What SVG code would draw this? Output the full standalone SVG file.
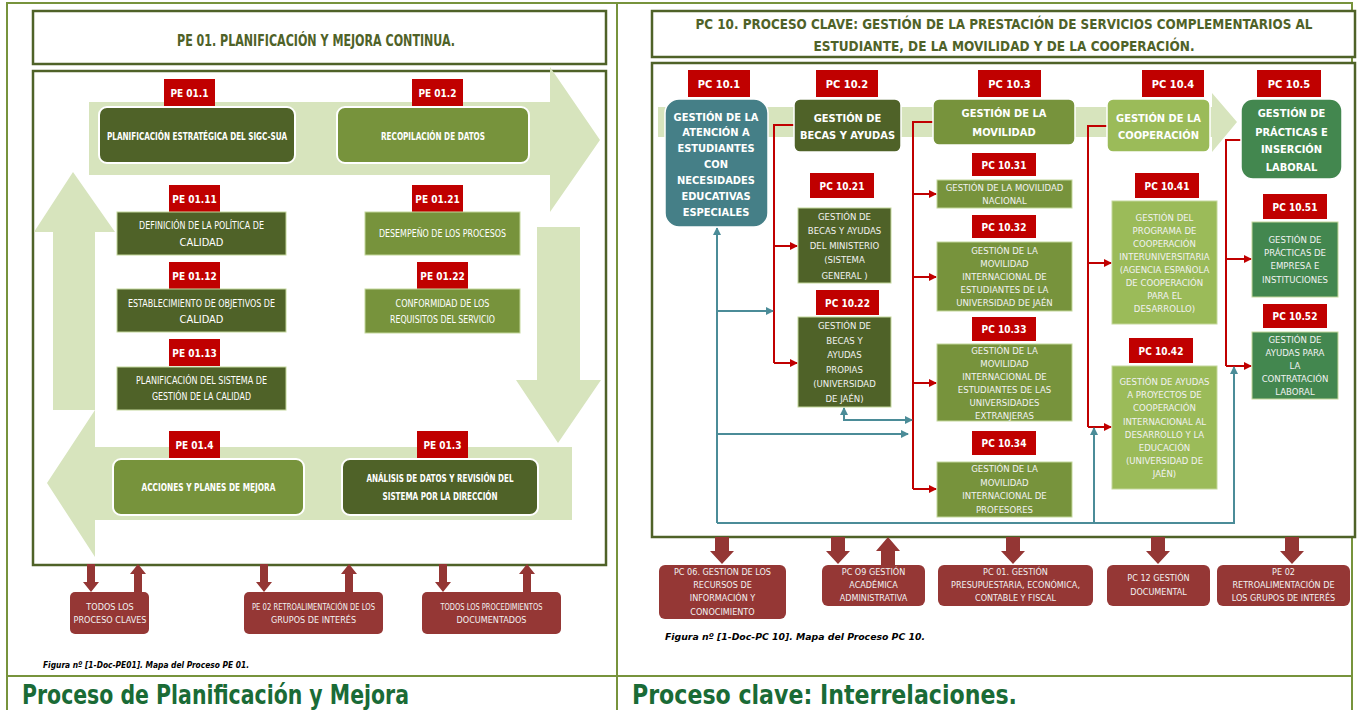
<svg xmlns="http://www.w3.org/2000/svg" width="1359" height="710" viewBox="0 0 1359 710">
<style>
text{font-family:"Liberation Sans Narrow","DejaVu Sans Condensed","Liberation Sans",sans-serif;text-anchor:middle;dominant-baseline:central}
.frame{fill:none;stroke:#77933C;stroke-width:2}
.box{fill:#fff;stroke:#4F6228;stroke-width:2.5}
.big{fill:#D7E4BD}
.lbl{fill:#C00000}
.lt{fill:#fff;font-weight:bold;font-size:10px}
.lt2{fill:#fff;font-weight:bold;font-size:11px}
.dk{fill:#4F6228}
.ol{fill:#77933C}
.lg{fill:#9BBB59}
.gr{fill:#43874F}
.tl{fill:#457F87}
.rb{stroke:#fff;stroke-width:2}
.sb{stroke:#C4D79B;stroke-width:1}
.bt{fill:#fff;font-weight:bold;font-size:11px}
.rt{fill:#fff;font-size:11px}
.st{fill:#F2F2F2;font-size:9.5px}
.br{fill:#953735}
.brt{fill:#F2F2F2;font-size:9px}
.ttl{fill:#4F6228;font-weight:bold;font-size:15px}
.ttl2{fill:#4F6228;font-weight:bold;font-size:14px}
.cap{fill:#000;font-weight:bold;font-style:italic;font-size:9px;text-anchor:start}
.big2{fill:#1A6B36;font-weight:bold;font-size:27px;text-anchor:start}
.red{fill:none;stroke:#C00000;stroke-width:2}
.teal{fill:none;stroke:#4B8C98;stroke-width:2}
</style>
<defs>
<marker id="ar" markerUnits="userSpaceOnUse" markerWidth="8" markerHeight="8" refX="7" refY="4" orient="auto"><path d="M0,0 L8,4 L0,8 z" fill="#C00000"/></marker>
<marker id="at" markerUnits="userSpaceOnUse" markerWidth="8" markerHeight="8" refX="7" refY="4" orient="auto-start-reverse"><path d="M0,0 L8,4 L0,8 z" fill="#4B8C98"/></marker>
</defs>
<rect width="1359" height="710" fill="#fff"/>

<g id="frames">
<path class="frame" d="M7,715 V3 H1352 V715 M617,3 V715 M7,676 H1352"/>
</g>

<!-- LEFT PANEL -->
<g id="pe01-title">
<rect class="box" x="33" y="11" width="573" height="53"/>
<text class="ttl" x="316" y="41" textLength="278" lengthAdjust="spacingAndGlyphs">PE 01. PLANIFICACIÓN Y MEJORA CONTINUA.</text>
</g>
<g id="pe01-main">
<rect class="box" x="33" y="71" width="573" height="494"/>
<polygon class="big" points="89,102 550,102 550,67 600,140 550,212 550,175 89,175"/>
<polygon class="big" points="537,227 580,227 580,380 601,380 558,443 516,380 537,380"/>
<polygon class="big" points="572,447 572,520 95,520 95,557 47,483 95,410 95,447"/>
<polygon class="big" points="53,410 53,232 34,232 73,172 115,232 95,232 95,410"/>
</g>

<g id="pe01-1">
<rect class="lbl" x="164" y="79" width="51" height="27"/><text class="lt" x="189.5" y="93">PE 01.1</text>
<rect class="dk rb" x="99" y="107" width="196" height="56" rx="8"/>
<text class="bt" x="197" y="136" textLength="180" lengthAdjust="spacingAndGlyphs">PLANIFICACIÓN ESTRATÉGICA DEL SIGC-SUA</text>
</g>
<g id="pe01-2">
<rect class="lbl" x="412" y="79" width="51" height="27"/><text class="lt" x="437.5" y="93">PE 01.2</text>
<rect class="ol rb" x="337" y="107" width="192" height="56" rx="8"/>
<text class="bt" x="433" y="136" textLength="104" lengthAdjust="spacingAndGlyphs">RECOPILACIÓN DE DATOS</text>
</g>
<g id="pe01-11">
<rect class="lbl" x="169" y="185" width="51" height="27"/><text class="lt" x="194.5" y="199">PE 01.11</text>
<rect class="dk sb" x="117" y="212" width="169" height="43"/>
<text class="rt" x="201.5" y="225" textLength="125" lengthAdjust="spacingAndGlyphs">DEFINICIÓN DE LA POLÍTICA DE</text>
<text class="rt" x="201.5" y="242">CALIDAD</text>
</g>
<g id="pe01-12">
<rect class="lbl" x="169" y="262" width="51" height="27"/><text class="lt" x="194.5" y="276">PE 01.12</text>
<rect class="dk sb" x="117" y="289" width="169" height="43"/>
<text class="rt" x="201.5" y="303" textLength="147" lengthAdjust="spacingAndGlyphs">ESTABLECIMIENTO DE OBJETIVOS DE</text>
<text class="rt" x="201.5" y="319">CALIDAD</text>
</g>
<g id="pe01-13">
<rect class="lbl" x="169" y="339" width="51" height="27"/><text class="lt" x="194.5" y="353">PE 01.13</text>
<rect class="dk sb" x="117" y="367" width="169" height="43"/>
<text class="rt" x="201.5" y="380" textLength="131" lengthAdjust="spacingAndGlyphs">PLANIFICACIÓN DEL SISTEMA DE</text>
<text class="rt" x="201.5" y="396" textLength="99" lengthAdjust="spacingAndGlyphs">GESTIÓN DE LA CALIDAD</text>
</g>
<g id="pe01-21">
<rect class="lbl" x="412" y="185" width="51" height="27"/><text class="lt" x="437.5" y="199">PE 01.21</text>
<rect class="ol sb" x="365" y="212" width="155" height="43"/>
<text class="rt" x="442.5" y="233" textLength="127" lengthAdjust="spacingAndGlyphs">DESEMPEÑO DE LOS PROCESOS</text>
</g>
<g id="pe01-22">
<rect class="lbl" x="417" y="262" width="51" height="27"/><text class="lt" x="442.5" y="276">PE 01.22</text>
<rect class="ol sb" x="365" y="289" width="155" height="44"/>
<text class="rt" x="442.5" y="303" textLength="94" lengthAdjust="spacingAndGlyphs">CONFORMIDAD DE LOS</text>
<text class="rt" x="442.5" y="319" textLength="105" lengthAdjust="spacingAndGlyphs">REQUISITOS DEL SERVICIO</text>
</g>
<g id="pe01-4">
<rect class="lbl" x="169" y="431" width="51" height="27"/><text class="lt" x="194.5" y="445">PE 01.4</text>
<rect class="ol rb" x="113" y="459" width="191" height="56" rx="8"/>
<text class="bt" x="208.5" y="487" textLength="134" lengthAdjust="spacingAndGlyphs">ACCIONES Y PLANES DE MEJORA</text>
</g>
<g id="pe01-3">
<rect class="lbl" x="417" y="431" width="51" height="27"/><text class="lt" x="442.5" y="445">PE 01.3</text>
<rect class="dk rb" x="342" y="459" width="196" height="56" rx="8"/>
<text class="bt" x="440" y="478" textLength="147" lengthAdjust="spacingAndGlyphs">ANÁLISIS DE DATOS Y REVISIÓN DEL</text>
<text class="bt" x="440" y="496" textLength="115" lengthAdjust="spacingAndGlyphs">SISTEMA POR LA DIRECCIÓN</text>
</g>

<g id="pe01-links" fill="#943634">
<polygon points="87,564 95,564 95,582 99,582 91,592 83,582 87,582"/>
<polygon points="134,592 142,592 142,574 146,574 138,564 130,574 134,574"/>
<polygon points="260,564 268,564 268,582 272,582 264,592 256,582 260,582"/>
<polygon points="345,592 353,592 353,574 357,574 349,564 341,574 345,574"/>
<polygon points="439,564 447,564 447,582 451,582 443,592 435,582 439,582"/>
<polygon points="523,592 531,592 531,574 535,574 527,564 519,574 523,574"/>
</g>
<g id="pe01-ext1">
<rect class="br" x="70" y="592" width="79" height="42" rx="5"/>
<text class="brt" x="110" y="607">TODOS LOS</text><text class="brt" x="110" y="620">PROCESO CLAVES</text>
</g>
<g id="pe01-ext2">
<rect class="br" x="244" y="592" width="139" height="42" rx="5"/>
<text class="brt" x="313.5" y="607" textLength="123" lengthAdjust="spacingAndGlyphs">PE 02 RETROALIMENTACIÓN DE LOS</text><text class="brt" x="313.5" y="620">GRUPOS DE INTERÉS</text>
</g>
<g id="pe01-ext3">
<rect class="br" x="422" y="592" width="139" height="42" rx="5"/>
<text class="brt" x="491.5" y="607" textLength="102" lengthAdjust="spacingAndGlyphs">TODOS LOS PROCEDIMIENTOS</text><text class="brt" x="491.5" y="620">DOCUMENTADOS</text>
</g>
<text class="cap" x="43" y="665" textLength="206" lengthAdjust="spacingAndGlyphs">Figura nº [1-Doc-PE01]. Mapa del Proceso PE 01.</text>
<text class="big2" x="22" y="694" textLength="387" lengthAdjust="spacingAndGlyphs">Proceso de Planificación y Mejora</text>

<!-- RIGHT PANEL -->
<g id="pc10-title">
<rect class="box" x="652" y="11" width="703" height="46"/>
<text class="ttl2" x="1004" y="24" textLength="617" lengthAdjust="spacingAndGlyphs">PC 10. PROCESO CLAVE: GESTIÓN DE LA PRESTACIÓN DE SERVICIOS COMPLEMENTARIOS AL</text>
<text class="ttl2" x="1004" y="46" textLength="381" lengthAdjust="spacingAndGlyphs">ESTUDIANTE, DE LA MOVILIDAD Y DE LA COOPERACIÓN.</text>
</g>
<g id="pc10-main">
<rect class="box" x="652" y="63" width="703" height="474"/>
<polygon class="big" points="658,107 1212,107 1212,93 1237,122 1212,152 1212,137 658,137"/>
</g>

<g id="connectors">
<path class="red" d="M794,125 H774 V363"/>
<path class="red" d="M774,246 H797" marker-end="url(#ar)"/>
<path class="red" d="M774,363 H797" marker-end="url(#ar)"/>
<path class="red" d="M933,122 H913 V489"/>
<path class="red" d="M913,194 H936" marker-end="url(#ar)"/>
<path class="red" d="M913,277 H936" marker-end="url(#ar)"/>
<path class="red" d="M913,383 H936" marker-end="url(#ar)"/>
<path class="red" d="M913,489 H936" marker-end="url(#ar)"/>
<path class="red" d="M1107,126 H1088 V427"/>
<path class="red" d="M1088,263 H1111" marker-end="url(#ar)"/>
<path class="red" d="M1088,427 H1111" marker-end="url(#ar)"/>
<path class="red" d="M1241,140 H1226 V366"/>
<path class="red" d="M1226,259 H1251" marker-end="url(#ar)"/>
<path class="red" d="M1226,366 H1251" marker-end="url(#ar)"/>
<path class="teal" d="M717,523 V228" marker-end="url(#at)"/>
<path class="teal" d="M717,311 H773" marker-end="url(#at)"/>
<path class="teal" d="M717,434 H908" marker-end="url(#at)"/>
<path class="teal" d="M844,408 V420 H912" marker-start="url(#at)" marker-end="url(#at)"/>
<path class="teal" d="M717,523 H1234 V367" marker-end="url(#at)"/>
<path class="teal" d="M1094,523 V428" marker-end="url(#at)"/>
</g>

<g id="pc10-1">
<rect class="lbl" x="688" y="70" width="62" height="27"/><text class="lt2" x="719" y="84">PC 10.1</text>
<rect class="tl" x="665" y="99" width="103" height="128" rx="14" stroke="#fff" stroke-width="1.5"/>
<text class="bt" x="716" y="117">GESTIÓN DE LA</text><text class="bt" x="716" y="132">ATENCIÓN A</text><text class="bt" x="716" y="148">ESTUDIANTES</text><text class="bt" x="716" y="164">CON</text><text class="bt" x="716" y="180">NECESIDADES</text><text class="bt" x="716" y="196">EDUCATIVAS</text><text class="bt" x="716" y="212">ESPECIALES</text>
</g>
<g id="pc10-2">
<rect class="lbl" x="816" y="70" width="62" height="27"/><text class="lt2" x="847" y="84">PC 10.2</text>
<rect class="dk" x="794" y="99" width="107" height="53" rx="6" stroke="#fff" stroke-width="1.5"/>
<text class="bt" x="847.5" y="118">GESTIÓN DE</text><text class="bt" x="847.5" y="135">BECAS Y AYUDAS</text>
</g>
<g id="pc10-3">
<rect class="lbl" x="978" y="70" width="63" height="27"/><text class="lt2" x="1009.5" y="84">PC 10.3</text>
<rect class="ol" x="933" y="99" width="142" height="46" rx="6" stroke="#fff" stroke-width="1.5"/>
<text class="bt" x="1004" y="113">GESTIÓN DE LA</text><text class="bt" x="1004" y="132">MOVILIDAD</text>
</g>
<g id="pc10-4">
<rect class="lbl" x="1142" y="70" width="62" height="27"/><text class="lt2" x="1173" y="84">PC 10.4</text>
<rect class="lg" x="1107" y="99" width="103" height="53" rx="6" stroke="#fff" stroke-width="1.5"/>
<text class="bt" x="1158.5" y="118">GESTIÓN DE LA</text><text class="bt" x="1158.5" y="135">COOPERACIÓN</text>
</g>
<g id="pc10-5">
<rect class="lbl" x="1257" y="70" width="64" height="27"/><text class="lt2" x="1289" y="84">PC 10.5</text>
<rect class="gr" x="1241" y="99" width="101" height="80" rx="12" stroke="#fff" stroke-width="1.5"/>
<text class="bt" x="1291.5" y="113">GESTIÓN DE</text><text class="bt" x="1291.5" y="132">PRÁCTICAS E</text><text class="bt" x="1291.5" y="149">INSERCIÓN</text><text class="bt" x="1291.5" y="167">LABORAL</text>
</g>
<g id="pc10-21">
<rect class="lbl" x="810" y="173" width="64" height="25"/><text class="lt" x="842" y="186">PC 10.21</text>
<rect class="dk sb" x="798" y="208" width="93" height="75"/>
<text class="st" x="844.5" y="216">GESTIÓN DE</text><text class="st" x="844.5" y="230">BECAS Y AYUDAS</text><text class="st" x="844.5" y="245">DEL MINISTERIO</text><text class="st" x="844.5" y="259">(SISTEMA</text><text class="st" x="844.5" y="275">GENERAL )</text>
</g>
<g id="pc10-22">
<rect class="lbl" x="816" y="290" width="63" height="25"/><text class="lt" x="847.5" y="303">PC 10.22</text>
<rect class="dk sb" x="798" y="317" width="93" height="90"/>
<text class="st" x="844.5" y="325">GESTIÓN DE</text><text class="st" x="844.5" y="340">BECAS Y</text><text class="st" x="844.5" y="354">AYUDAS</text><text class="st" x="844.5" y="369">PROPIAS</text><text class="st" x="844.5" y="383">(UNIVERSIDAD</text><text class="st" x="844.5" y="398">DE JAÉN)</text>
</g>
<g id="pc10-31">
<rect class="lbl" x="972" y="153" width="64" height="23"/><text class="lt" x="1004" y="165">PC 10.31</text>
<rect class="ol sb" x="937" y="180" width="135" height="28"/>
<text class="st" x="1004.5" y="187">GESTIÓN DE LA MOVILIDAD</text><text class="st" x="1004.5" y="200">NACIONAL</text>
</g>
<g id="pc10-32">
<rect class="lbl" x="972" y="215" width="64" height="23"/><text class="lt" x="1004" y="227">PC 10.32</text>
<rect class="ol sb" x="937" y="242" width="135" height="69"/>
<text class="st" x="1004.5" y="250">GESTIÓN DE LA</text><text class="st" x="1004.5" y="263">MOVILIDAD</text><text class="st" x="1004.5" y="276">INTERNACIONAL DE</text><text class="st" x="1004.5" y="289">ESTUDIANTES DE LA</text><text class="st" x="1004.5" y="302">UNIVERSIDAD DE JAÉN</text>
</g>
<g id="pc10-33">
<rect class="lbl" x="972" y="317" width="64" height="24"/><text class="lt" x="1004" y="329">PC 10.33</text>
<rect class="ol sb" x="937" y="344" width="135" height="77"/>
<text class="st" x="1004.5" y="350">GESTIÓN DE LA</text><text class="st" x="1004.5" y="363">MOVILIDAD</text><text class="st" x="1004.5" y="376">INTERNACIONAL DE</text><text class="st" x="1004.5" y="389">ESTUDIANTES DE LAS</text><text class="st" x="1004.5" y="402">UNIVERSIDADES</text><text class="st" x="1004.5" y="415">EXTRANJERAS</text>
</g>
<g id="pc10-34">
<rect class="lbl" x="972" y="431" width="64" height="24"/><text class="lt" x="1004" y="443">PC 10.34</text>
<rect class="ol sb" x="937" y="462" width="135" height="55"/>
<text class="st" x="1004.5" y="468">GESTIÓN DE LA</text><text class="st" x="1004.5" y="482">MOVILIDAD</text><text class="st" x="1004.5" y="495">INTERNACIONAL DE</text><text class="st" x="1004.5" y="509">PROFESORES</text>
</g>
<g id="pc10-41">
<rect class="lbl" x="1135" y="173" width="64" height="25"/><text class="lt" x="1167" y="186">PC 10.41</text>
<rect class="lg sb" x="1112" y="201" width="105" height="123"/>
<text class="st" x="1164.5" y="217">GESTIÓN DEL</text><text class="st" x="1164.5" y="230">PROGRAMA DE</text><text class="st" x="1164.5" y="243">COOPERACIÓN</text><text class="st" x="1164.5" y="256">INTERUNIVERSITARIA</text><text class="st" x="1164.5" y="269">(AGENCIA ESPAÑOLA</text><text class="st" x="1164.5" y="282">DE COOPERACIÓN</text><text class="st" x="1164.5" y="295">PARA EL</text><text class="st" x="1164.5" y="308">DESARROLLO)</text>
</g>
<g id="pc10-42">
<rect class="lbl" x="1129" y="338" width="64" height="25"/><text class="lt" x="1161" y="351">PC 10.42</text>
<rect class="lg sb" x="1112" y="366" width="105" height="123"/>
<text class="st" x="1164.5" y="381">GESTIÓN DE AYUDAS</text><text class="st" x="1164.5" y="394">A PROYECTOS DE</text><text class="st" x="1164.5" y="407">COOPERACIÓN</text><text class="st" x="1164.5" y="421">INTERNACIONAL AL</text><text class="st" x="1164.5" y="434">DESARROLLO Y LA</text><text class="st" x="1164.5" y="447">EDUCACIÓN</text><text class="st" x="1164.5" y="460">(UNIVERSIDAD DE</text><text class="st" x="1164.5" y="473">JAÉN)</text>
</g>
<g id="pc10-51">
<rect class="lbl" x="1263" y="194" width="64" height="25"/><text class="lt" x="1295" y="207">PC 10.51</text>
<rect class="gr sb" x="1252" y="222" width="86" height="75"/>
<text class="st" x="1295" y="239">GESTIÓN DE</text><text class="st" x="1295" y="252">PRÁCTICAS DE</text><text class="st" x="1295" y="265">EMPRESA E</text><text class="st" x="1295" y="279">INSTITUCIONES</text>
</g>
<g id="pc10-52">
<rect class="lbl" x="1263" y="304" width="64" height="24"/><text class="lt" x="1295" y="316">PC 10.52</text>
<rect class="gr sb" x="1252" y="332" width="86" height="67"/>
<text class="st" x="1295" y="339">GESTIÓN DE</text><text class="st" x="1295" y="352">AYUDAS PARA</text><text class="st" x="1295" y="365">LA</text><text class="st" x="1295" y="378">CONTRATACIÓN</text><text class="st" x="1295" y="391">LABORAL</text>
</g>

<g id="pc10-links" fill="#943634">
<polygon points="715,537 729,537 729,551 734,551 722,564 710,551 715,551"/>
<polygon points="831,537 845,537 845,551 850,551 838,564 826,551 831,551"/>
<polygon points="881,565 895,565 895,551 900,551 888,537 876,551 881,551"/>
<polygon points="1006,537 1020,537 1020,551 1025,551 1013,564 1001,551 1006,551"/>
<polygon points="1151,537 1165,537 1165,551 1170,551 1158,564 1146,551 1151,551"/>
<polygon points="1285,537 1299,537 1299,551 1304,551 1292,564 1280,551 1285,551"/>
</g>
<g id="pc10-ext1">
<rect class="br" x="659" y="565" width="127" height="54" rx="6"/>
<text class="brt" x="722.5" y="572">PC 06. GESTION DE LOS</text><text class="brt" x="722.5" y="585">RECURSOS DE</text><text class="brt" x="722.5" y="598">INFORMACIÓN Y</text><text class="brt" x="722.5" y="612">CONOCIMIENTO</text>
</g>
<g id="pc10-ext2">
<rect class="br" x="822" y="565" width="103" height="41" rx="6"/>
<text class="brt" x="873.5" y="572">PC O9 GESTIÓN</text><text class="brt" x="873.5" y="585">ACADÉMICA</text><text class="brt" x="873.5" y="598">ADMINISTRATIVA</text>
</g>
<g id="pc10-ext3">
<rect class="br" x="938" y="565" width="155" height="41" rx="6"/>
<text class="brt" x="1015.5" y="572">PC 01. GESTIÓN</text><text class="brt" x="1015.5" y="585">PRESUPUESTARIA, ECONÓMICA,</text><text class="brt" x="1015.5" y="598">CONTABLE Y FISCAL</text>
</g>
<g id="pc10-ext4">
<rect class="br" x="1107" y="565" width="103" height="41" rx="6"/>
<text class="brt" x="1158.5" y="578">PC 12 GESTIÓN</text><text class="brt" x="1158.5" y="592">DOCUMENTAL</text>
</g>
<g id="pc10-ext5">
<rect class="br" x="1217" y="565" width="133" height="41" rx="6"/>
<text class="brt" x="1283.5" y="572">PE 02</text><text class="brt" x="1283.5" y="585">RETROALIMENTACIÓN DE</text><text class="brt" x="1283.5" y="598">LOS GRUPOS DE INTERÉS</text>
</g>
<text class="cap" x="665" y="637" textLength="260" lengthAdjust="spacingAndGlyphs">Figura nº [1-Doc-PC 10]. Mapa del Proceso PC 10.</text>
<text class="big2" x="632" y="694" textLength="385" lengthAdjust="spacingAndGlyphs">Proceso clave: Interrelaciones.</text>
</svg>
